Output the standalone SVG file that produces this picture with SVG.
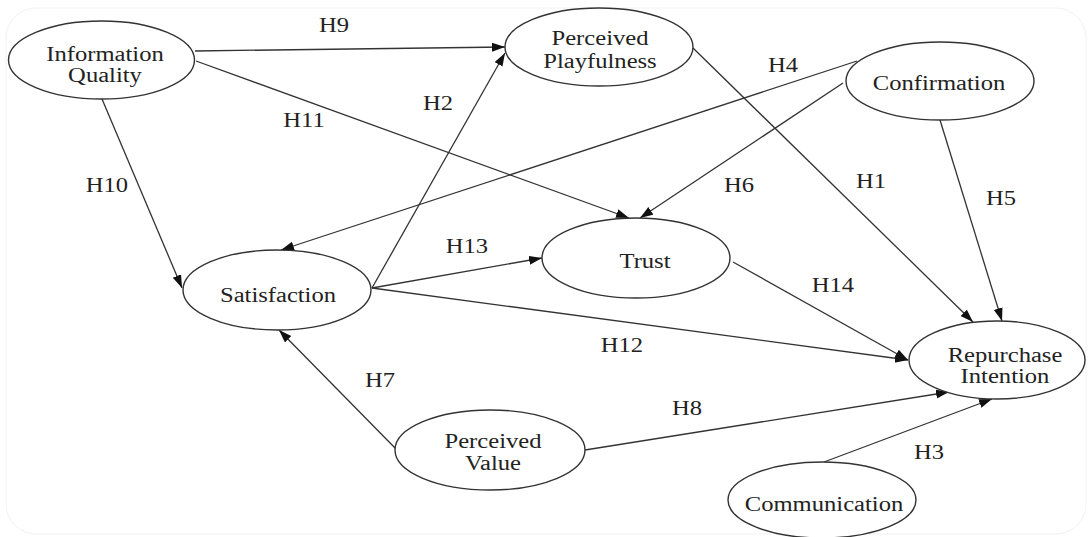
<svg xmlns="http://www.w3.org/2000/svg" width="1090" height="537" viewBox="0 0 1090 537">
<style>
.n{fill:#fff;stroke:#333;stroke-width:1.4}
.e{stroke:#333;stroke-width:1.3;fill:none;marker-end:url(#ah)}
text{font-family:"Liberation Serif","Times New Roman",serif;font-size:20px;fill:#222;text-anchor:middle}
</style>
<defs>
<marker id="ah" markerUnits="userSpaceOnUse" markerWidth="14" markerHeight="10" refX="13" refY="4.5" orient="auto">
<path d="M0,0 L13,4.5 L0,9 z" fill="#111"/>
</marker>
</defs>
<rect x="0" y="0" width="1090" height="537" fill="#fff"/>
<rect x="6" y="8" width="1080" height="526" rx="30" fill="none" stroke="#f2f2f2" stroke-width="1"/>
<g id="connectors">
<line class="e" x1="195" y1="51" x2="505" y2="47"/>
<line class="e" x1="196" y1="61" x2="629" y2="218"/>
<line class="e" x1="102" y1="99" x2="182" y2="288"/>
<line class="e" x1="372" y1="288" x2="505" y2="53"/>
<line class="e" x1="857" y1="61" x2="281" y2="250"/>
<line class="e" x1="372" y1="288" x2="542" y2="258"/>
<line class="e" x1="372" y1="288" x2="908" y2="360"/>
<line class="e" x1="397" y1="450" x2="279" y2="330"/>
<line class="e" x1="693" y1="48" x2="973" y2="322"/>
<line class="e" x1="843" y1="83" x2="640" y2="218"/>
<line class="e" x1="940" y1="120" x2="1002" y2="321"/>
<line class="e" x1="733" y1="262" x2="908" y2="360"/>
<line class="e" x1="585" y1="450" x2="949" y2="392"/>
<line class="e" x1="824" y1="462" x2="992" y2="399"/>
<g id="edge-labels">
<text transform="translate(334,32) scale(1.23,1)">H9</text>
<text transform="translate(304,127) scale(1.23,1)">H11</text>
<text transform="translate(107,192) scale(1.23,1)">H10</text>
<text transform="translate(438,110) scale(1.23,1)">H2</text>
<text transform="translate(783,72) scale(1.23,1)">H4</text>
<text transform="translate(467,253) scale(1.23,1)">H13</text>
<text transform="translate(622,352) scale(1.23,1)">H12</text>
<text transform="translate(380,387) scale(1.23,1)">H7</text>
<text transform="translate(871,188) scale(1.23,1)">H1</text>
<text transform="translate(739,192) scale(1.23,1)">H6</text>
<text transform="translate(1001,205) scale(1.23,1)">H5</text>
<text transform="translate(833,292) scale(1.23,1)">H14</text>
<text transform="translate(687,415) scale(1.23,1)">H8</text>
<text transform="translate(929,459) scale(1.23,1)">H3</text>
</g>
</g>
<g id="information-quality">
<ellipse class="n" cx="101.5" cy="60" rx="93" ry="39"/>
<text transform="translate(105,61) scale(1.23,1)">Information</text>
<text transform="translate(105,82) scale(1.23,1)">Quality</text>
</g>
<g id="perceived-playfulness">
<ellipse class="n" cx="599" cy="47" rx="94" ry="39"/>
<text transform="translate(600,45) scale(1.23,1)">Perceived</text>
<text transform="translate(600,68) scale(1.23,1)">Playfulness</text>
</g>
<g id="confirmation">
<ellipse class="n" cx="940" cy="81" rx="94" ry="39"/>
<text transform="translate(939,90) scale(1.23,1)">Confirmation</text>
</g>
<g id="trust">
<ellipse class="n" cx="636" cy="258" rx="94" ry="40"/>
<text transform="translate(645,268) scale(1.23,1)">Trust</text>
</g>
<g id="satisfaction">
<ellipse class="n" cx="277" cy="290" rx="94" ry="40"/>
<text transform="translate(278,302) scale(1.23,1)">Satisfaction</text>
</g>
<g id="perceived-value">
<ellipse class="n" cx="490" cy="450" rx="95" ry="40"/>
<text transform="translate(493,448) scale(1.23,1)">Perceived</text>
<text transform="translate(493,470) scale(1.23,1)">Value</text>
</g>
<g id="repurchase-intention">
<ellipse class="n" cx="997" cy="360" rx="88" ry="39"/>
<text transform="translate(1005,362) scale(1.23,1)">Repurchase</text>
<text transform="translate(1005,383) scale(1.23,1)">Intention</text>
</g>
<g id="communication">
<ellipse class="n" cx="822" cy="500" rx="94" ry="38"/>
<text transform="translate(824,511) scale(1.23,1)">Communication</text>
</g>
</svg>
